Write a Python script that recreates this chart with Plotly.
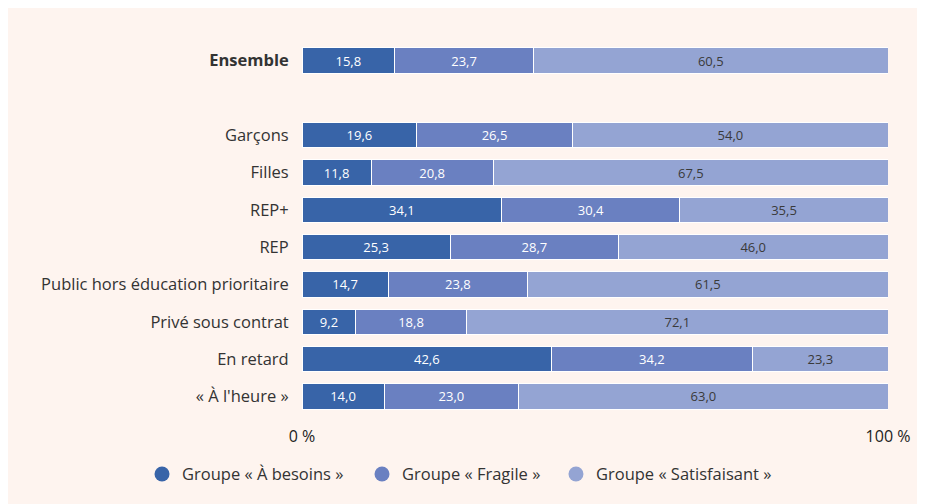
import plotly.graph_objects as go

categories = ["<b>Ensemble</b>", "", "Garçons", "Filles", "REP+", "REP",
              "Public hors éducation prioritaire", "Privé sous contrat",
              "En retard", "« À l'heure »"]
besoins = [15.8, None, 19.6, 11.8, 34.1, 25.3, 14.7, 9.2, 42.6, 14.0]
fragile = [23.7, None, 26.5, 20.8, 30.4, 28.7, 23.8, 18.8, 34.2, 23.0]
satisf = [60.5, None, 54.0, 67.5, 35.5, 46.0, 61.5, 72.1, 23.3, 63.0]
series_names = ["Groupe « À besoins »", "Groupe « Fragile »", "Groupe « Satisfaisant »"]
colors = ["#3864a8", "#6a80c1", "#94a4d3"]
text_colors = ["#ffffff", "#ffffff", "#3a3a3a"]
x_ticks = [0, 100]
x_tick_labels = ["0 %", "100 %"]

ypos = list(range(len(categories)))
BG = "#fef4ef"
FONT = "'Open Sans', sans-serif"
legend_ids = ["legend", "legend2", "legend3"]
legend_x = [-0.273, 0.1024, 0.4334]

fig = go.Figure()
for vals, name, col, tcol in zip([besoins, fragile, satisf], series_names, colors, text_colors):
    fig.add_trace(go.Bar(
        y=ypos, x=vals, orientation="h", name=name,
        marker=dict(color=col, line=dict(color="#ffffff", width=1)),
        width=0.68,
        text=[("" if v is None else f"{v:.1f}".replace(".", ",")) for v in vals],
        textposition="inside", insidetextanchor="middle", textangle=0,
        constraintext="none",
        textfont=dict(color=tcol, size=13, family=FONT),
        showlegend=False, hoverinfo="skip",
    ))
for name, col, lid in zip(series_names, colors, legend_ids):
    fig.add_trace(go.Scatter(
        x=[None], y=[None], mode="markers", name=name,
        marker=dict(color=col, size=15, symbol="circle"),
        showlegend=True, legend=lid,
    ))

legend_common = dict(orientation="h", xanchor="left", y=-0.159, yanchor="middle",
                     font=dict(size=16.5, color="#333333"), bgcolor="rgba(0,0,0,0)",
                     itemwidth=30)

fig.update_layout(
    barmode="stack",
    width=925, height=504,
    paper_bgcolor=BG, plot_bgcolor=BG,
    margin=dict(l=294, r=45, t=34, b=97),
    font=dict(family=FONT, size=16, color="#333333"),
    legend=dict(x=legend_x[0], **legend_common),
    legend2=dict(x=legend_x[1], **legend_common),
    legend3=dict(x=legend_x[2], **legend_common),
)
fig.update_xaxes(range=[0, 100], tickvals=x_ticks, ticktext=x_tick_labels,
                 showgrid=True, gridcolor="#9a9a9a", gridwidth=1,
                 zeroline=False, showline=False, ticks="outside", ticklen=7,
                 tickcolor="rgba(0,0,0,0)", tickfont=dict(size=16, color="#222222"),
                 fixedrange=True, automargin=False)
fig.update_yaxes(range=[9.5, -0.5], tickvals=ypos, ticktext=categories,
                 showgrid=False, zeroline=False, showline=False,
                 ticks="outside", ticklen=9, tickcolor="rgba(0,0,0,0)",
                 tickfont=dict(size=16.5, color="#333333"), fixedrange=True,
                 automargin=False)

fig.write_html("out.html")
